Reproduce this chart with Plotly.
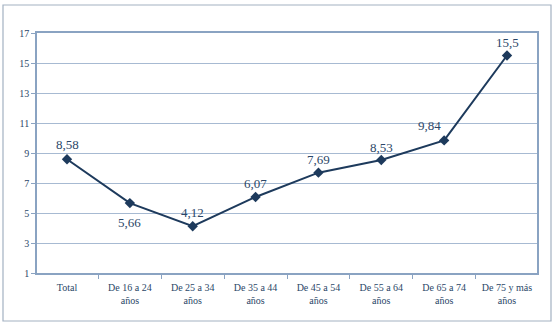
import plotly.graph_objects as go

categories = ["Total", "De 16 a 24<br>años", "De 25 a 34<br>años", "De 35 a 44<br>años",
              "De 45 a 54<br>años", "De 55 a 64<br>años", "De 65 a 74<br>años", "De 75 y más<br>años"]
values = [8.58, 5.66, 4.12, 6.07, 7.69, 8.53, 9.84, 15.5]
y_ticks = [1, 3, 5, 7, 9, 11, 13, 15, 17]
# label offsets in pixels (dx, dy) relative to each point
label_offsets = [(0, 15), (0, -19), (0, 14), (0, 13), (0, 13), (0, 13), (-15, 15), (0, 13)]

line_col = "#1d3a5c"
text_col = "#2b4768"
grid_col = "#a7bad2"
frame_col = "#8aa3c2"
FONT = "Liberation Serif, DejaVu Serif, serif"

fig = go.Figure()
fig.add_trace(go.Scatter(
    x=categories, y=values, mode="lines+markers",
    line=dict(color=line_col, width=2),
    marker=dict(symbol="diamond", size=8, color=line_col),
    cliponaxis=False,
    hoverinfo="skip",
))

annotations = []
for c, v, (dx, dy) in zip(categories, values, label_offsets):
    annotations.append(dict(
        x=c, y=v, xref="x", yref="y", text=str(v).replace(".", ","),
        showarrow=False, xshift=dx, yshift=dy, xanchor="center", yanchor="middle",
        font=dict(family=FONT, size=13, color=text_col),
    ))

fig.update_layout(
    width=555, height=323,
    margin=dict(l=37, r=18, t=33, b=50),
    paper_bgcolor="white", plot_bgcolor="white",
    showlegend=False,
    font=dict(family=FONT, size=10, color=text_col),
    annotations=annotations,
    shapes=[dict(type="rect", xref="paper", yref="paper",
                 x0=-0.068, x1=1.028, y0=-0.2, y1=1.1167,
                 line=dict(color="#a3b1c2", width=1.2), fillcolor="rgba(0,0,0,0)",
                 layer="below")],
)
fig.update_xaxes(
    type="category", showgrid=False,
    showline=True, linecolor=frame_col, linewidth=1.5, mirror=True,
    ticks="outside", tickson="boundaries", ticklen=4, tickcolor=frame_col,
    ticklabelstandoff=4,
    tickfont=dict(family=FONT, size=10, color=text_col),
)
fig.update_yaxes(
    range=[1, 17], tickvals=y_ticks, ticktext=[str(t) for t in y_ticks],
    showgrid=True, gridcolor=grid_col, gridwidth=1.3,
    showline=True, linecolor=frame_col, linewidth=1.5, mirror=True,
    ticks="outside", ticklen=4, tickcolor=frame_col,
    tickfont=dict(family=FONT, size=10, color=text_col),
    zeroline=False,
)

fig.write_html("out.html")
